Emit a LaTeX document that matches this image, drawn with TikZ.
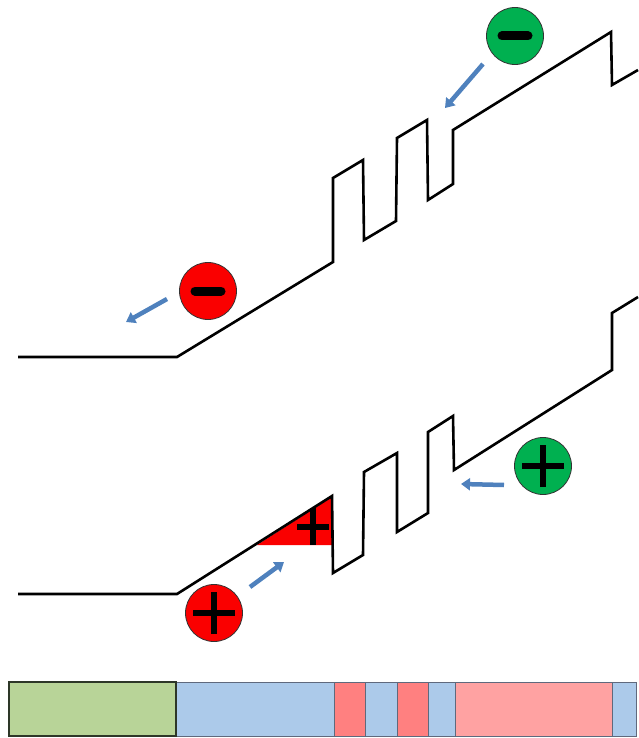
\documentclass[tikz,border=0pt]{standalone}
\usetikzlibrary{arrows.meta}
\definecolor{bandblk}{RGB}{0,0,0}
\definecolor{arrblue}{RGB}{79,129,189}
\definecolor{cred}{RGB}{250,0,0}
\definecolor{cgreen}{RGB}{0,176,80}
\definecolor{bgreen}{RGB}{184,212,152}
\definecolor{bblue}{RGB}{172,202,234}
\definecolor{bred}{RGB}{255,128,128}
\definecolor{bpink}{RGB}{255,162,162}
\definecolor{bedge}{RGB}{95,105,125}
\definecolor{gedge}{RGB}{45,55,40}
\tikzset{
  band/.style={draw=bandblk, line width=2.6pt, line join=miter},
  charge/.style={circle, draw=black!80, line width=0.8pt, minimum size=57pt, inner sep=0pt},
  sym/.style={line width=6pt, black},
  minussym/.style={line width=9pt, black, line cap=round},
  flow/.style={draw=arrblue, line width=4.5pt, -{Triangle[length=9pt,width=12pt]}},
  seg/.style={draw=bedge, line width=1pt}
}
\begin{document}
\begin{tikzpicture}[x=1pt,y=-1pt]
\useasboundingbox (0,0) rectangle (638,738);
% red triangle
\fill[cred] (257,545) -- (332,545) -- (332,497) -- cycle;
\draw[sym, line width=5.5pt] (297,527) -- (329,527) (313,508) -- (313,545);
% conduction band
\draw[band] (18,357) -- (177,357) -- (333,262) -- (333,178) -- (363,160) -- (364,240) -- (396,221) -- (397,138) -- (427,120) -- (428,200) -- (453,184) -- (453,130) -- (611,32) -- (612,85) -- (638,70);
% valence band
\draw[band] (18,594) -- (177,594) -- (332,496) -- (333,573) -- (363,555) -- (364,472) -- (397,453) -- (397,532) -- (428,513) -- (428,432) -- (453,416) -- (454,470) -- (612,370) -- (612,313) -- (638,297);
% charges
\node[charge, fill=cred] (rm) at (208,291) {};
\node[charge, fill=cgreen] (gm) at (515,36) {};
\node[charge, fill=cred] (rp) at (214,613) {};
\node[charge, fill=cgreen] (gp) at (543,466) {};
\draw[minussym] ([xshift=-13pt]rm.center) -- ([xshift=13pt]rm.center);
\draw[minussym] ([xshift=-13pt]gm.center) -- ([xshift=13pt]gm.center);
\draw[sym] ([xshift=-21pt]rp.center) -- ([xshift=21pt]rp.center) ([yshift=-21pt]rp.center) -- ([yshift=21pt]rp.center);
\draw[sym] ([xshift=-21pt]gp.center) -- ([xshift=21pt]gp.center) ([yshift=-21pt]gp.center) -- ([yshift=21pt]gp.center);
% arrows
\coordinate (a1s) at (167,299); \coordinate (a1e) at (126,322);
\coordinate (a2s) at (483,64);  \coordinate (a2e) at (445,108);
\coordinate (a3s) at (250,587); \coordinate (a3e) at (284,562);
\coordinate (a4s) at (504,485); \coordinate (a4e) at (461,484);
\draw[flow] (a1s) -- (a1e);
\draw[flow] (a2s) -- (a2e);
\draw[flow] (a3s) -- (a3e);
\draw[flow] (a4s) -- (a4e);
% bar
\draw[seg, fill=bblue] (176,682) rectangle (334,736);
\draw[seg, fill=bred] (334,682) rectangle (365,736);
\draw[seg, fill=bblue] (365,682) rectangle (397,736);
\draw[seg, fill=bred] (397,682) rectangle (428,736);
\draw[seg, fill=bblue] (428,682) rectangle (455,736);
\draw[seg, fill=bpink] (455,682) rectangle (612,736);
\draw[seg, fill=bblue] (612,682) rectangle (636,736);
\draw[draw=gedge, line width=1.8pt, fill=bgreen] (9,682) rectangle (176,736);
\end{tikzpicture}
\end{document}
